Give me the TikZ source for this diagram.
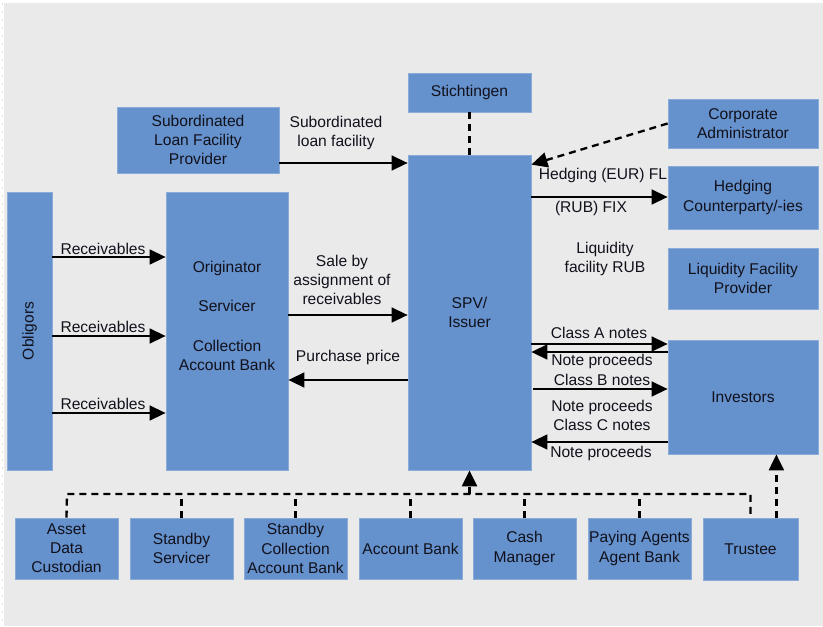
\documentclass[tikz,border=0pt]{standalone}
\usepackage{fontspec}
\setmainfont{Liberation Sans}
\usetikzlibrary{arrows.meta}
\usetikzlibrary{calc}
\definecolor{boxblue}{RGB}{101,145,204}
\definecolor{bggrey}{RGB}{234,234,234}
\definecolor{inkblack}{RGB}{17,17,28}

\begin{document}
\begin{tikzpicture}[x=1pt, y=-1pt,
    box/.style={fill=boxblue, draw=boxblue!75!white, line width=0.8pt, inner sep=0pt,
      align=center, text=inkblack, font=\fontsize{15.6}{19.2}\selectfont},
    lbl/.style={inner sep=0pt, align=center, text=inkblack, font=\fontsize{15.6}{19.2}\selectfont},
    flow/.style={line width=1.5pt, -{Triangle[length=16pt,width=15pt]}},
    dashflow/.style={flow, line width=2.3pt, dash pattern=on 7pt off 5pt},
    dashline/.style={line width=2.3pt, dash pattern=on 7pt off 5pt}]
  % background
  \fill[white] (0,0) rectangle (823,626);
  \fill[bggrey] (4,3) rectangle (823,626);
  \draw[black!12, line width=1pt, dash pattern=on 2pt off 6pt] (2,3) -- (2,626);
  \useasboundingbox (0,0) rectangle (823,626);

  % boxes
  \node[box, minimum width=162pt, minimum height=66pt] (sub) at (198,140) {Subordinated\\Loan Facility\\Provider};
  \node[box, minimum width=123pt, minimum height=39pt] (stich) at (469.5,92.5) {Stichtingen};
  \node[box, minimum width=123pt, minimum height=315pt] (spv) at (469.5,312.5) {SPV/\\Issuer};
  \node[box, minimum width=150pt, minimum height=49pt] (corp) at (743,123.5) {Corporate\\Administrator};
  \node[box, minimum width=150pt, minimum height=63pt] (hedge) at (743,197.5) {Hedging\\Counterparty/-ies};
  \node[box, minimum width=150pt, minimum height=61pt] (liq) at (743,278.5) {Liquidity Facility\\Provider};
  \node[box, minimum width=150pt, minimum height=114pt] (inv) at (743,397) {Investors};
  \node[box, minimum width=45pt, minimum height=278pt] (obl) at (29.5,331) {};
  \node[lbl, rotate=90] (obltext) at (obl) {Obligors};
  \node[box, minimum width=122pt, minimum height=278pt] (orig) at (227,331) {};
  \node[lbl] (origtext) at (227,316) {Originator\\[20pt]Servicer\\[20pt]Collection\\Account Bank};

  % bottom row
  \node[box, minimum width=103pt, minimum height=61pt] (asset) at (66.5,548.5) {Asset\\Data\\Custodian};
  \node[box, minimum width=103pt, minimum height=61pt] (sserv) at (181.5,548.5) {Standby\\Servicer};
  \node[box, minimum width=103pt, minimum height=61pt] (scoll) at (295.5,548.5) {Standby\\Collection\\Account Bank};
  \node[box, minimum width=103pt, minimum height=61pt] (accbank) at (410.5,548.5) {Account Bank};
  \node[box, minimum width=103pt, minimum height=61pt] (cash) at (524.5,548.5) {Cash\\Manager};
  \node[box, minimum width=103pt, minimum height=61pt] (paying) at (639.5,548.5) {Paying Agents\\Agent Bank};
  \node[box, minimum width=95pt, minimum height=62pt] (trustee) at (750.5,549) {Trustee};

  % labels
  \node[lbl] (lblsub) at (336,133) {Subordinated\\loan facility};
  \node[lbl] (lblrecA) at (103,249) {Receivables};
  \node[lbl] (lblrecB) at (103,327) {Receivables};
  \node[lbl] (lblrecC) at (103,404) {Receivables};
  \node[lbl] (lblsale) at (342,280) {Sale by\\assignment of\\receivables};
  \node[lbl] (lblprice) at (348,357) {Purchase price};
  \node[lbl] (lblhedgeA) at (603,175) {Hedging (EUR) FL};
  \node[lbl] (lblhedgeB) at (591,208) {(RUB) FIX};
  \node[lbl] (lblliq) at (605,259) {Liquidity\\facility RUB};
  \node[lbl] (lblclassA) at (599,333) {Class A notes};
  \node[lbl] (lblprocA) at (602,361) {Note proceeds};
  \node[lbl] (lblclassB) at (602,380) {Class B notes};
  \node[lbl] (lblprocB) at (602,407) {Note proceeds};
  \node[lbl] (lblclassC) at (602,425) {Class C notes};
  \node[lbl] (lblprocC) at (601,453) {Note proceeds};

  % flows
  \draw[flow] (sub.east |- 0,163) -- (spv.west |- 0,163);
  \draw[flow] (obl.east |- 0,257) -- (orig.west |- 0,257);
  \draw[flow] (obl.east |- 0,336) -- (orig.west |- 0,336);
  \draw[flow] (obl.east |- 0,413) -- (orig.west |- 0,413);
  \draw[flow] (orig.east |- 0,315) -- (spv.west |- 0,315);
  \draw[flow] (spv.west |- 0,380) -- (orig.east |- 0,380);
  \draw[flow] (spv.east |- 0,197) -- (hedge.west |- 0,197);
  \draw[flow] (spv.east |- 0,344) -- (inv.west |- 0,344);
  \draw[flow] (inv.west |- 0,352) -- (spv.east |- 0,352);
  \draw[flow] ($(spv.east |- 0,389)+(2,0)$) -- (inv.west |- 0,389);
  \draw[flow] (inv.west |- 0,442) -- (spv.east |- 0,442);

  % dashed links
  \draw[dashline] (stich) -- (spv);
  \draw[dashflow] (corp.west) -- ($(spv.north east)+(0,10)$);
  \coordinate (busL) at (67,494);
  \draw[dashline] (asset.north) -- (busL) -| (trustee.north);
  \foreach \n in {sserv, scoll, accbank, cash, paying}
    \draw[dashline] (\n.north) -- (\n.north |- busL);
  \draw[dashflow] (spv.south |- busL) -- (spv.south);
  \coordinate (trtop) at ($(trustee.north east)+(-22,0)$);
  \draw[dashflow] (trtop) -- (trtop |- inv.south);
\end{tikzpicture}
\end{document}
